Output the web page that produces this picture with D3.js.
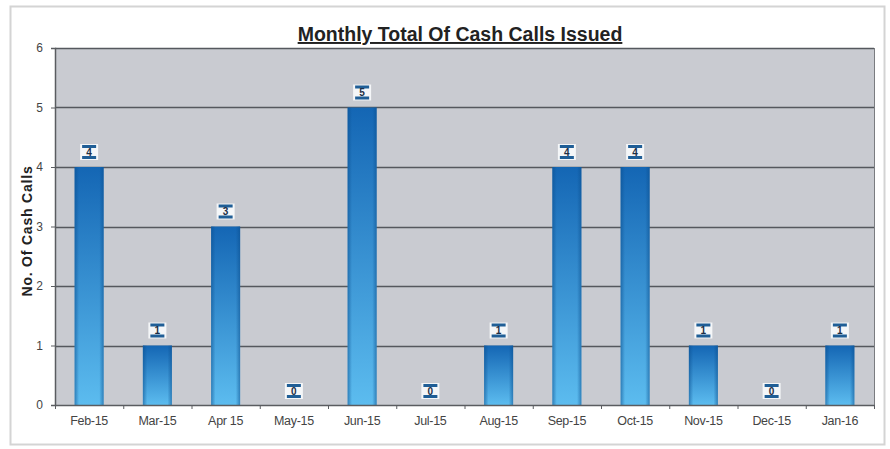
<!DOCTYPE html>
<html>
<head>
<meta charset="utf-8">
<script src="https://cdn.jsdelivr.net/npm/d3@7"></script>
<style>
  body { margin: 0; background: #fff; }
  text { font-family: "Liberation Sans", Arial, sans-serif; }
</style>
</head>
<body>
<div id="chart"></div>
<script>
// data ========================================================================
var months = ["Feb-15", "Mar-15", "Apr 15", "May-15", "Jun-15", "Jul-15",
              "Aug-15", "Sep-15", "Oct-15", "Nov-15", "Dec-15", "Jan-16"];
var cashCalls = [4, 1, 3, 0, 5, 0, 1, 4, 4, 1, 0, 1];
var yTicks = [0, 1, 2, 3, 4, 5, 6];

// sizes =======================================================================
var width = 890, height = 449;
var _margin = { top: 48, right: 16, bottom: 44, left: 55 };
var plotW = 874 - _margin.left, plotH = 405 - _margin.top;

var svg = d3.select("#chart").append("svg")
    .attr("width", width)
    .attr("height", height);

// outer frame
svg.append("rect")
    .attr("x", 10.5).attr("y", 6.5)
    .attr("width", 874).attr("height", 438)
    .attr("fill", "#fff")
    .attr("stroke", "#d4d4d4")
    .attr("stroke-width", 2);

var defs = svg.append("defs");
var grad = defs.append("linearGradient")
    .attr("id", "barGrad")
    .attr("x1", 0).attr("y1", 0).attr("x2", 0).attr("y2", 1);
grad.append("stop").attr("offset", "0%").attr("stop-color", "#1466b4");
grad.append("stop").attr("offset", "100%").attr("stop-color", "#5cbcef");

var edge = defs.append("linearGradient")
    .attr("id", "edgeGrad")
    .attr("x1", 0).attr("y1", 0).attr("x2", 1).attr("y2", 0);
edge.append("stop").attr("offset", "0%").attr("stop-color", "#0b4f8e").attr("stop-opacity", 0.55);
edge.append("stop").attr("offset", "15%").attr("stop-color", "#0b4f8e").attr("stop-opacity", 0);
edge.append("stop").attr("offset", "85%").attr("stop-color", "#0b4f8e").attr("stop-opacity", 0);
edge.append("stop").attr("offset", "100%").attr("stop-color", "#0b4f8e").attr("stop-opacity", 0.55);

var chart = svg.append("g")
    .attr("transform", "translate(" + _margin.left + "," + _margin.top + ")");

// scales
var x = d3.scaleBand()
    .domain(months)
    .range([0, plotW])
    .paddingInner(0.575)
    .paddingOuter(0.2875);

var y = d3.scaleLinear()
    .domain([0, 6])
    .range([plotH, 0]);

// plot background
chart.append("rect")
    .attr("width", plotW)
    .attr("height", plotH)
    .attr("fill", "#c9cbd1");

// gridlines
chart.append("g")
    .selectAll("line")
    .data(yTicks.slice(1))
    .join("line")
    .attr("x1", 0).attr("x2", plotW)
    .attr("y1", function (d) { return Math.round(y(d)) + 0.5; })
    .attr("y2", function (d) { return Math.round(y(d)) + 0.5; })
    .attr("stroke", "#55585e")
    .attr("stroke-width", 1.3);

// right border of plot
chart.append("line")
    .attr("x1", plotW + 0.5).attr("x2", plotW + 0.5)
    .attr("y1", 0).attr("y2", plotH)
    .attr("stroke", "#7a7c80");

// bars
var bars = chart.append("g").selectAll("g")
    .data(cashCalls)
    .join("g");

bars.append("rect")
    .attr("x", function (d, i) { return x(months[i]); })
    .attr("y", function (d) { return y(d); })
    .attr("width", x.bandwidth())
    .attr("height", function (d) { return plotH - y(d); })
    .attr("fill", "url(#barGrad)");

bars.append("rect")
    .attr("x", function (d, i) { return x(months[i]); })
    .attr("y", function (d) { return y(d); })
    .attr("width", x.bandwidth())
    .attr("height", function (d) { return plotH - y(d); })
    .attr("fill", "url(#edgeGrad)");

// value labels
var labels = chart.append("g").selectAll("g")
    .data(cashCalls)
    .join("g")
    .attr("transform", function (d, i) {
        var cx = x(months[i]) + x.bandwidth() / 2;
        var cy = d > 0 ? y(d) - 15 : plotH - 14;
        return "translate(" + cx + "," + cy + ")";
    });

labels.append("rect")
    .attr("x", -9).attr("y", -8)
    .attr("width", 18).attr("height", 16)
    .attr("fill", "#f4f6f8");
labels.append("rect")
    .attr("x", -7).attr("y", -7)
    .attr("width", 14).attr("height", 3)
    .attr("fill", "#1f5e96");
labels.append("rect")
    .attr("x", -7).attr("y", 4)
    .attr("width", 14).attr("height", 3)
    .attr("fill", "#1f5e96");
labels.append("text")
    .attr("text-anchor", "middle")
    .attr("dy", "0.36em")
    .attr("font-size", 10)
    .attr("font-weight", "bold")
    .attr("fill", "#1d2f45")
    .text(function (d) { return d; });

// Y axis
var yAxis = chart.append("g")
    .call(d3.axisLeft(y).tickValues(yTicks).tickSize(4).tickPadding(8).tickFormat(d3.format("d")));
yAxis.select(".domain").attr("stroke", "#5a5c60").attr("stroke-width", 1.5);
yAxis.selectAll(".tick line").attr("stroke", "#5a5c60");
yAxis.selectAll(".tick text")
    .attr("font-size", 12)
    .attr("fill", "#444")
    .attr("font-family", "'Liberation Sans', Arial, sans-serif");

// X axis
var xAxis = chart.append("g")
    .attr("transform", "translate(0," + plotH + ")")
    .call(d3.axisBottom(x).tickSize(0).tickPadding(11));
xAxis.select(".domain").attr("stroke", "#5a5c60").attr("stroke-width", 1.5);
xAxis.selectAll(".tick text")
    .attr("font-size", 12.5)
    .attr("letter-spacing", "-0.3px")
    .attr("fill", "#444")
    .attr("font-family", "'Liberation Sans', Arial, sans-serif");

// tick marks between categories
chart.append("g")
    .selectAll("line")
    .data(d3.range(months.length + 1))
    .join("line")
    .attr("x1", function (i) { return i * x.step() + 0.5; })
    .attr("x2", function (i) { return i * x.step() + 0.5; })
    .attr("y1", plotH).attr("y2", plotH + 4)
    .attr("stroke", "#5a5c60");

// title
svg.append("text")
    .attr("x", 460)
    .attr("y", 41)
    .attr("text-anchor", "middle")
    .attr("font-size", 19.5)
    .attr("font-weight", "bold")
    .attr("text-decoration", "underline")
    .attr("fill", "#222")
    .text("Monthly Total Of Cash Calls Issued");

// Y axis label
svg.append("text")
    .attr("transform", "translate(32,231) rotate(-90)")
    .attr("text-anchor", "middle")
    .attr("font-size", 14)
    .attr("font-weight", "bold")
    .attr("letter-spacing", "0.8px")
    .attr("fill", "#222")
    .text("No. Of Cash Calls");
</script>
</body>
</html>
